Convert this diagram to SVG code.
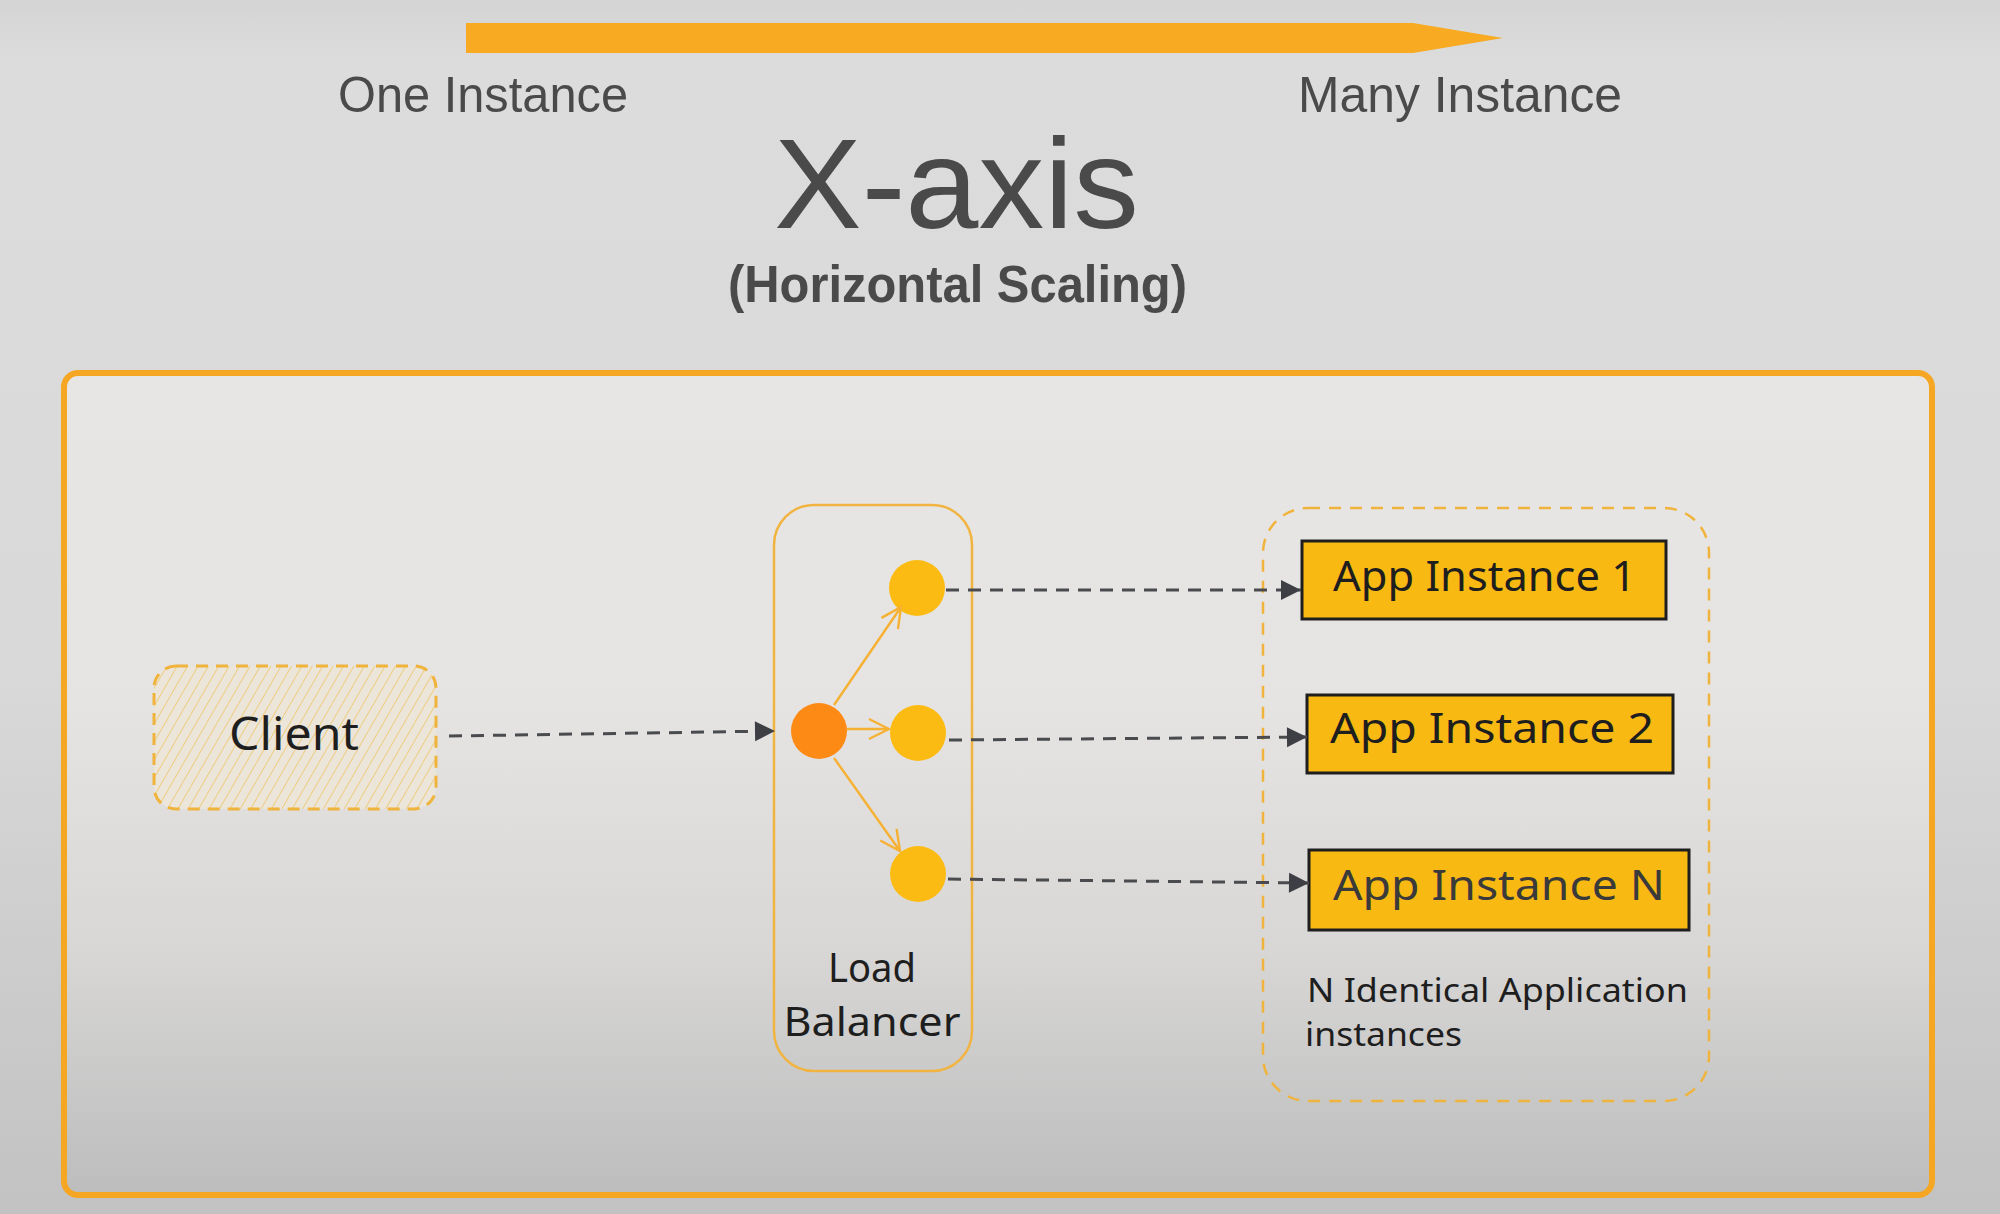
<svg xmlns="http://www.w3.org/2000/svg" width="2000" height="1214" viewBox="0 0 2000 1214">
<defs>
<linearGradient id="bg" x1="0" y1="0" x2="0" y2="1">
<stop offset="0" stop-color="#d4d4d4"/>
<stop offset="0.05" stop-color="#dcdcdc"/>
<stop offset="0.55" stop-color="#d9d9d9"/>
<stop offset="1" stop-color="#c2c2c2"/>
</linearGradient>
<linearGradient id="panel" x1="0" y1="0" x2="0" y2="1">
<stop offset="0" stop-color="#e8e6e5"/>
<stop offset="0.4" stop-color="#e6e4e3"/>
<stop offset="0.7" stop-color="#d8d7d6"/>
<stop offset="1" stop-color="#bdbdbd"/>
</linearGradient>
<pattern id="hatch" width="9" height="9" patternUnits="userSpaceOnUse" patternTransform="rotate(30)">
<rect width="9" height="9" fill="#ebe5da"/>
<line x1="0" y1="0" x2="0" y2="9" stroke="#efc76a" stroke-width="1.6"/>
</pattern>
<marker id="ah" markerUnits="userSpaceOnUse" markerWidth="24" markerHeight="24" viewBox="0 0 24 24" refX="22" refY="12" orient="auto">
<path d="M2,2 L22,12 L2,22 Z" fill="#3d3f44"/>
</marker>
<marker id="oh" markerUnits="userSpaceOnUse" markerWidth="30" markerHeight="30" viewBox="0 0 30 30" refX="28" refY="15" orient="auto">
<path d="M8,5 L28,15 L8,25" fill="none" stroke="#f6b133" stroke-width="2.4"/>
</marker>
<style>
.title{font-family:"Liberation Sans","DejaVu Sans",sans-serif;fill:#4a4a4a}
.hand{font-family:"Noto Sans","DejaVu Sans",sans-serif;fill:#1e1e1e}
.dash{stroke:#4a4b4f;stroke-width:3;stroke-dasharray:13 9;fill:none}
.orng{stroke:#f6b133;stroke-width:2.4;fill:none}
.app{fill:#f8b913;stroke:#1e1e1e;stroke-width:3}
.yc{fill:#fbbb12}
</style>
</defs>

<rect x="0" y="0" width="2000" height="1214" fill="url(#bg)"/>

<g id="scale-arrow">
<polygon points="466,23 1413,23 1503,38 1413,53 466,53" fill="#f7aa22"/>
<text class="title" x="338" y="112" font-size="50" textLength="290" lengthAdjust="spacingAndGlyphs">One Instance</text>
<text class="title" x="1298" y="112" font-size="50" textLength="324" lengthAdjust="spacingAndGlyphs">Many Instance</text>
</g>

<g id="title">
<text class="title" x="774" y="228" font-size="128" textLength="365" lengthAdjust="spacingAndGlyphs">X-axis</text>
<text class="title" x="728" y="302" font-size="52" font-weight="bold" textLength="459" lengthAdjust="spacingAndGlyphs">(Horizontal Scaling)</text>
</g>

<g id="panel">
<rect x="64" y="373" width="1868" height="822" rx="14" fill="url(#panel)" stroke="#f5a623" stroke-width="6"/>
</g>

<g id="client">
<rect x="154" y="666" width="282" height="143" rx="22" fill="url(#hatch)" stroke="#f0b43c" stroke-width="3" stroke-dasharray="12 8"/>
<text class="hand" x="294" y="750" font-size="46" text-anchor="middle" textLength="130" lengthAdjust="spacingAndGlyphs">Client</text>
</g>

<g id="load-balancer">
<rect x="774" y="505" width="198" height="566" rx="40" fill="none" stroke="#f2b441" stroke-width="2.5"/>
<circle cx="819" cy="731" r="28" fill="#fd8a14"/>
<circle class="yc" cx="917" cy="588" r="28"/>
<circle class="yc" cx="918" cy="733" r="28"/>
<circle class="yc" cx="918" cy="874" r="28"/>
<path class="orng" d="M834,705 L901,607" marker-end="url(#oh)"/>
<path class="orng" d="M847,729 L889,729" marker-end="url(#oh)"/>
<path class="orng" d="M834,758 L900,851" marker-end="url(#oh)"/>
<text class="hand" x="872" y="982" font-size="40" text-anchor="middle" textLength="88" lengthAdjust="spacingAndGlyphs">Load</text>
<text class="hand" x="872" y="1036" font-size="40" text-anchor="middle" textLength="177" lengthAdjust="spacingAndGlyphs">Balancer</text>
</g>

<g id="app-group">
<rect x="1263" y="508" width="446" height="593" rx="45" fill="none" stroke="#f0b43c" stroke-width="2.5" stroke-dasharray="12 9"/>
<text class="hand" x="1307" y="1002" font-size="32" textLength="381" lengthAdjust="spacingAndGlyphs">N Identical Application</text>
<text class="hand" x="1305" y="1046" font-size="32" textLength="157" lengthAdjust="spacingAndGlyphs">instances</text>
</g>

<g id="app1">
<rect class="app" x="1302" y="541" width="364" height="78"/>
<text class="hand" x="1333" y="591" font-size="42" textLength="303" lengthAdjust="spacingAndGlyphs">App Instance 1</text>
</g>

<g id="app2">
<rect class="app" x="1307" y="695" width="366" height="78"/>
<text class="hand" x="1330" y="743" font-size="42" textLength="324" lengthAdjust="spacingAndGlyphs">App Instance 2</text>
</g>

<g id="appN">
<rect class="app" x="1309" y="850" width="380" height="80" stroke="#5a5a5a"/>
<text class="hand" x="1333" y="900" font-size="42" textLength="332" lengthAdjust="spacingAndGlyphs" style="fill:#3a3a3a">App Instance N</text>
</g>

<g id="connectors">
<path class="dash" d="M449,736 L775,731" marker-end="url(#ah)"/>
<path class="dash" d="M946,590 L1301,590" marker-end="url(#ah)"/>
<path class="dash" d="M949,740 L1307,737" marker-end="url(#ah)"/>
<path class="dash" d="M948,879 L1309,883" marker-end="url(#ah)"/>
</g>
</svg>
